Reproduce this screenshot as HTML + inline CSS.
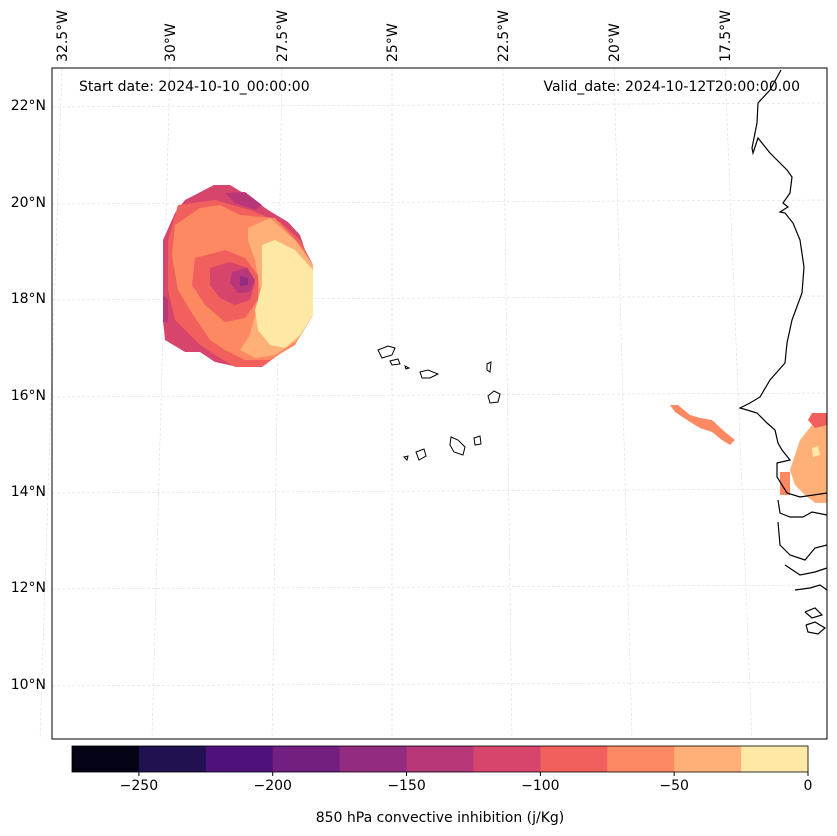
<!DOCTYPE html>
<html><head><meta charset="utf-8"><style>
html,body{margin:0;padding:0;background:#fff}
svg{display:block;font-family:"DejaVu Sans","Liberation Sans",sans-serif}
</style></head><body>
<svg id="chart" width="837" height="836" viewBox="0 0 837 836">
<rect width="837" height="836" fill="#fff"/>
<g id="grid"></g>
<g id="field">
 <polygon fill="#d8456c" points="214,185 230,185 250,197 268,210 288,222 300,235 305,250 313,265 313,315 300,335 290,348 270,357 262,367 238,367 215,362 200,352 185,352 165,340 163,320 163,240 175,213 185,200"/>
 <polygon fill="#b73779" points="225,193 245,192 262,205 255,210 235,203"/>
 <polygon fill="#b73779" points="163,295 168,300 168,322 163,322"/>
 <polygon fill="#f1605d" points="178,205 215,200 250,210 280,222 300,240 313,265 313,315 300,335 285,350 262,367 235,367 215,355 200,345 175,320 168,290 168,240"/>
 <polygon fill="#fc8961" points="175,225 200,208 220,205 240,215 275,218 300,245 313,265 313,315 295,345 270,360 245,360 225,350 210,340 200,325 190,310 178,290 172,255"/>
 <polygon fill="#feb078" points="248,228 270,218 295,240 313,265 313,315 298,340 275,355 255,358 240,350 250,335 255,315 260,290 255,260 248,240"/>
 <polygon fill="#fde8a5" points="262,245 275,240 295,250 313,270 313,315 300,335 285,348 270,345 258,330 255,310 262,285 262,265"/>
 <polygon fill="#f1605d" points="195,258 225,250 245,258 258,275 258,300 245,318 225,322 205,305 192,285"/>
 <polygon fill="#d8456c" points="210,268 230,262 248,268 255,283 250,300 235,305 220,298 210,285"/>
 <polygon fill="#b73779" points="232,272 247,268 255,280 250,292 238,293 230,283"/>
 <polygon fill="#932b80" points="240,276 248,278 248,285 240,286"/>
 <polygon fill="#fc8961" points="670,405 678,405 690,415 700,418 712,420 725,432 735,440 730,445 722,440 712,432 700,428 690,422 675,412"/>
 <polygon fill="#fc8961" points="780,472 790,472 790,495 780,495"/>
 <polygon fill="#feb078" points="790,470 800,440 812,425 827,415 827,503 815,503 805,495 795,485"/>
 <polygon fill="#f1605d" points="808,420 812,413 827,413 827,425 815,428"/>
 <polygon fill="#fde8a5" points="812,448 818,446 820,455 813,457"/>
</g>
<g fill="none" stroke="#000" stroke-width="1.2">
 <polyline points="781,70 770,90 758,103 757,123 752,148 753,153 758,138 770,153 777,160 787,170 792,177 790,193 783,203 788,207 780,212 785,213 793,223 800,240 804,267 802,293 792,320 787,343 785,363 770,380 760,397 750,403 742,407 740,408 747,410 757,413 767,423 775,430 778,443 782,450 790,460 777,463 777,477 787,493 800,497 827,493"/>
 <polyline points="778,500 780,513 790,517 803,517 812,512 827,515"/>
 <polyline points="778,522 780,545 790,555 805,560 815,548 827,545"/>
 <polyline points="785,565 800,575 815,572 827,568"/>
 <polyline points="795,590 810,588 820,585 827,590"/>
 <polyline points="805,612 815,608 822,615 812,618 805,612"/>
 <polyline points="806,625 815,622 825,628 818,634 808,632 806,625"/>
</g>
<g fill="#fff" stroke="#000" stroke-width="1">
 <polygon points="378,350 388,346 395,348 392,355 382,358"/>
 <polygon points="390,361 398,359 400,364 392,365"/>
 <polygon points="405,366 409,368 406,369"/>
 <polygon points="420,372 428,370 438,374 430,378 422,378"/>
 <polygon points="487,364 491,362 490,372 487,370"/>
 <polygon points="488,396 494,391 500,394 498,402 490,403"/>
 <polygon points="404,457 408,456 407,460"/>
 <polygon points="416,452 424,449 426,456 419,460"/>
 <polygon points="451,437 458,440 465,447 463,455 454,452 450,445"/>
 <polygon points="474,438 480,436 481,444 475,445"/>
</g>
<rect x="52" y="68" width="775" height="671" fill="none" stroke="#000" stroke-width="1"/>
<text x="79" y="91" font-size="14">Start date: 2024-10-10_00:00:00</text>
<text x="800" y="91" font-size="14" text-anchor="end">Valid_date: 2024-10-12T20:00:00.00</text>
<g id="latlabels" font-size="14"></g>
<g id="lonlabels" font-size="14"></g>
<g id="cbar"></g>
<text x="440" y="822" font-size="14" text-anchor="middle">850 hPa convective inhibition (j/Kg)</text>
</svg>
<script>
const latLabels=["22°N","20°N","18°N","16°N","14°N","12°N","10°N"];
const latY=[105,202,298,395,491,587,684];
const lonLabels=["32.5°W","30°W","27.5°W","25°W","22.5°W","20°W","17.5°W"];
const lonTopX=[62,170,282,392,503,614,725];
const lonBotX=[40,152,272,392,512,632,752];
const cbLevels=[-275,-250,-225,-200,-175,-150,-125,-100,-75,-50,-25,0];
const cbColors=["#050416","#221150","#4f127b","#721f81","#932b80","#b73779","#d8456c","#f1605d","#fc8961","#feb078","#fde8a5"];
const cbTicks=[-250,-200,-150,-100,-50,0];
const NS="http://www.w3.org/2000/svg";
function mk(t,a,p){const e=document.createElementNS(NS,t);for(const k in a)e.setAttribute(k,a[k]);p.appendChild(e);return e;}
const grid=document.getElementById('grid');
latY.forEach(y=>{const l=mk('line',{x1:52,x2:827,y1:y+2,y2:y-2,stroke:'#ddd','stroke-width':0.6,'stroke-dasharray':'3,2'},grid);

});
lonTopX.forEach((x,i)=>{const l=mk('line',{x1:x,x2:lonBotX[i],y1:68,y2:739,stroke:'#ddd','stroke-width':0.6,'stroke-dasharray':'3,2'},grid);

});
const ll=document.getElementById('latlabels');
latLabels.forEach((s,i)=>{const t=mk('text',{x:46,y:latY[i]+5,'text-anchor':'end'},ll);t.textContent=s;

});
const lo=document.getElementById('lonlabels');
lonLabels.forEach((s,i)=>{const x=lonTopX[i]+5;const t=mk('text',{x:x,y:62,transform:`rotate(-90 ${x} 62)`},lo);t.textContent=s;

});
const cb=document.getElementById('cbar');
const x0=72,x1=808,cy=746,ch=26;
const sx=v=>x0+(v-cbLevels[0])/(cbLevels[cbLevels.length-1]-cbLevels[0])*(x1-x0);
cbColors.forEach((c,i)=>{const r=mk('rect',{x:sx(cbLevels[i]),y:cy,width:sx(cbLevels[i+1])-sx(cbLevels[i])+0.5,height:ch,fill:c},cb);

});
mk('rect',{x:x0,y:cy,width:x1-x0,height:ch,fill:'none',stroke:'#000','stroke-width':0.8},cb);
cbTicks.forEach(v=>{const x=sx(v);mk('line',{x1:x,x2:x,y1:cy+ch,y2:cy+ch+4,stroke:'#000'},cb);
const t=mk('text',{x:x,y:cy+ch+18,'text-anchor':'middle','font-size':14},cb);t.textContent=v<0?'\u2212'+(-v):String(v);

});
</script>
</body></html>
